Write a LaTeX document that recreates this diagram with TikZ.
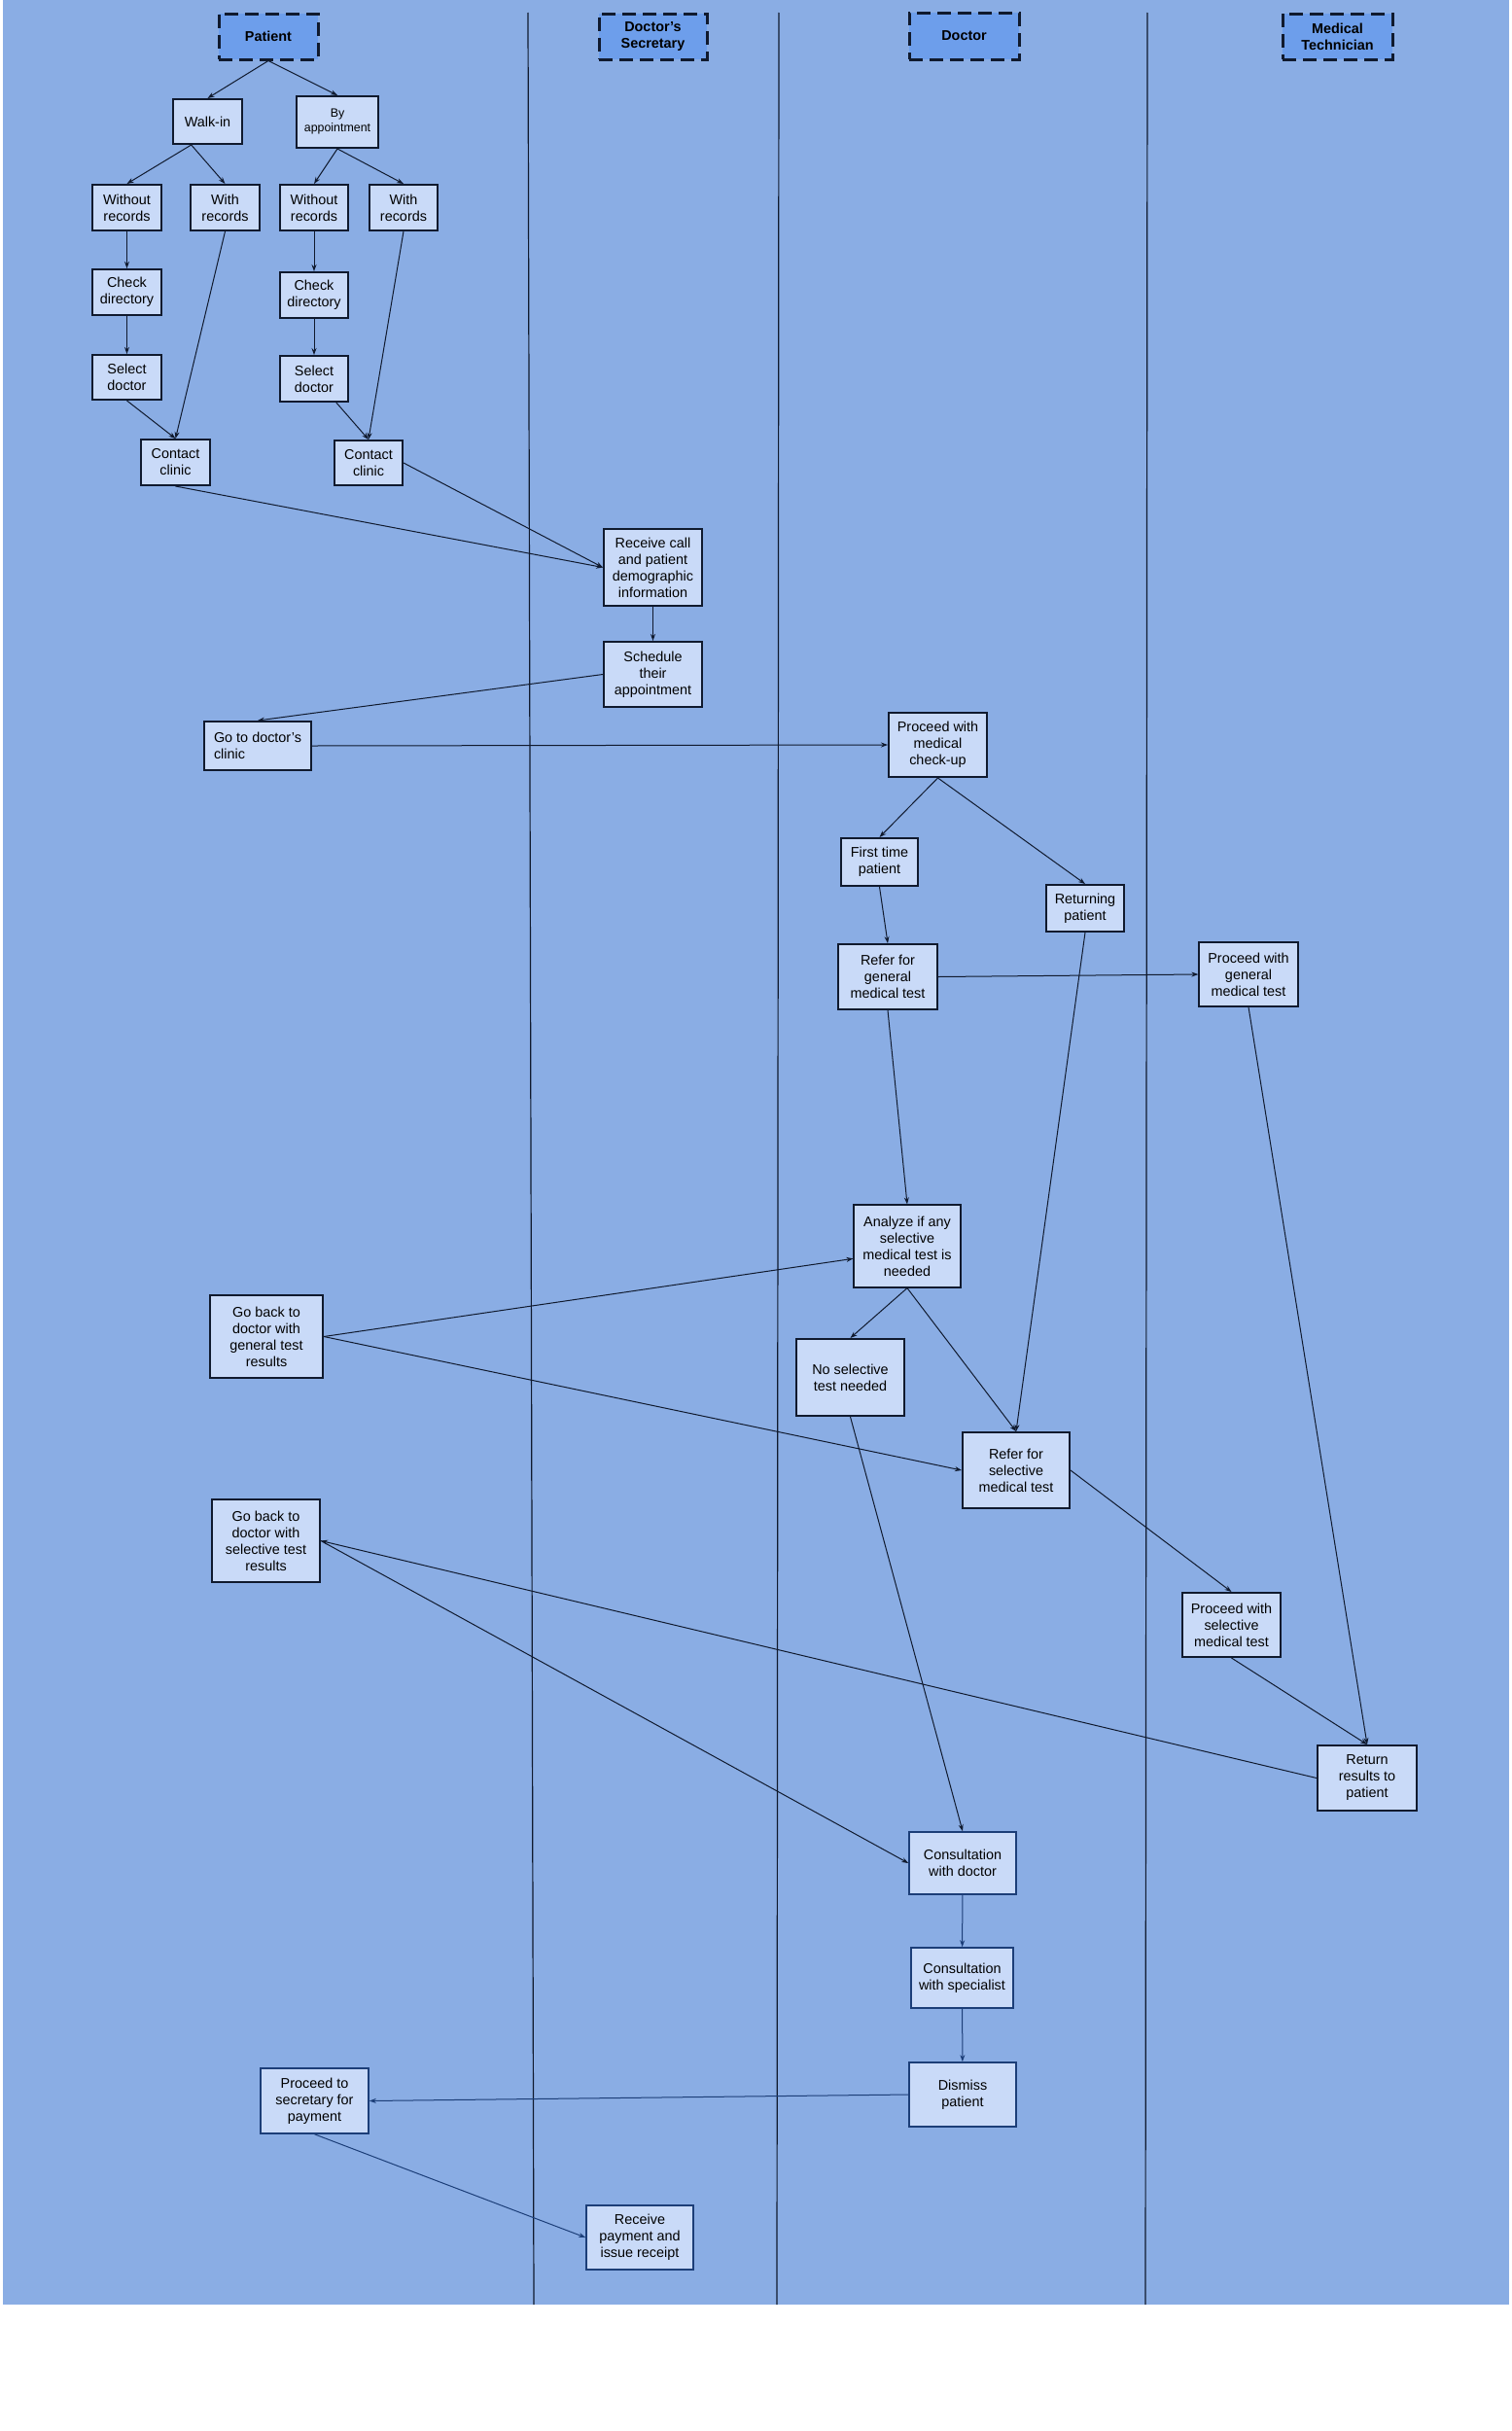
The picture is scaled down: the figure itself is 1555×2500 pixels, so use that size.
\documentclass[tikz,border=0pt]{standalone}
\usepackage{fontspec}
\setmainfont{Liberation Sans}
\usetikzlibrary{arrows.meta}
\definecolor{lanebg}{RGB}{138,173,228}
\definecolor{actorfill}{RGB}{109,158,235}
\definecolor{taskfill}{RGB}{201,218,248}
\definecolor{inkdark}{RGB}{16,26,46}
\definecolor{inkblue}{RGB}{28,62,120}
\tikzset{
  actor/.style={rectangle, draw=inkdark, fill=actorfill, line width=3pt, dash pattern=on 14pt off 7pt, align=center, font=\bfseries\fontsize{14.4}{17}\selectfont, inner sep=2pt},
  task/.style={rectangle, draw=inkdark, fill=taskfill, line width=2pt, align=center, font=\fontsize{14.4}{17}\selectfont, inner sep=2pt},
  taskt/.style={task, line width=1.2pt},
  taskb/.style={task, draw=inkblue, line width=1.6pt},
  sz/.style 2 args={minimum width=#1pt, minimum height=#2pt},
  line/.style={draw=inkdark, line width=1pt, -{Stealth[length=7pt,width=5pt]}},
  lineb/.style={line, draw=inkblue},
  lane/.style={draw=inkdark, line width=1.2pt},
}
\begin{document}
\begin{tikzpicture}[x=1pt,y=-1pt]
  \useasboundingbox (0,0) rectangle (1555,2500);
  \fill[white] (0,0) rectangle (1555,2500);
  \fill[lanebg] (3,0) rectangle (1552,2370);
  \draw[lane] (543,13) -- (549,2370);
  \draw[lane] (801,13) -- (799,2370);
  \draw[lane] (1180,13) -- (1178,2370);

  \node[actor,sz={102}{47}] (pat) at (276,37.5) {Patient};
  \node[actor,sz={111}{47}] (sec) at (671.5,37.5) {Doctor’s\\Secretary};
  \node[actor,sz={113}{48}] (doc) at (991.5,37) {Doctor};
  \node[actor,sz={113}{47}] (tech) at (1375.5,37.5) {Medical\\Technician};

  \node[task,sz={71}{46}] (walkin) at (213.5,125) {Walk-in};
  \node[task,sz={84}{53},font=\fontsize{12.4}{15}\selectfont] (byapp) at (347,125.5) {By\\appointment};
  \node[task,sz={71}{47}] (wo1) at (130.5,213.5) {Without\\records};
  \node[task,sz={71}{47}] (w1) at (231.5,213.5) {With\\records};
  \node[task,sz={70}{47}] (wo2) at (323,213.5) {Without\\records};
  \node[task,sz={70}{47}] (w2) at (415,213.5) {With\\records};
  \node[task,sz={71}{47}] (chk1) at (130.5,300.5) {Check\\directory};
  \node[task,sz={70}{47}] (chk2) at (323,303.5) {Check\\directory};
  \node[task,sz={71}{46}] (sel1) at (130.5,388) {Select\\doctor};
  \node[task,sz={70}{47}] (sel2) at (323,389.5) {Select\\doctor};
  \node[task,sz={71}{47}] (con1) at (180.5,475.5) {Contact\\clinic};
  \node[task,sz={70}{46}] (con2) at (379,476) {Contact\\clinic};

  \node[task,sz={101}{79}] (recv) at (671.5,583.5) {Receive call\\and patient\\demographic\\information};
  \node[task,sz={101}{67}] (sched) at (671.5,693.5) {Schedule\\their\\appointment};
  \node[task,sz={110}{50},align=left] (clinic) at (265,767) {Go to doctor’s\\clinic};

  \node[task,sz={101}{66}] (chkup) at (964.5,766) {Proceed with\\medical\\check-up};
  \node[task,sz={79}{49}] (first) at (904.5,886.5) {First time\\patient};
  \node[task,sz={80}{48}] (ret) at (1116,934) {Returning\\patient};
  \node[task,sz={102}{67}] (refgen) at (913,1004.5) {Refer for\\general\\medical test};
  \node[taskt,sz={102}{66}] (procgen) at (1284,1002) {Proceed with\\general\\medical test};
  \node[taskt,sz={110}{85}] (analyze) at (933,1281.5) {Analyze if any\\selective\\medical test is\\needed};
  \node[task,sz={116}{85}] (gbgen) at (274,1374.5) {Go back to\\doctor with\\general test\\results};
  \node[task,sz={111}{79}] (nosel) at (874.5,1416.5) {No selective\\test needed};
  \node[task,sz={110}{78}] (refsel) at (1045,1512) {Refer for\\selective\\medical test};
  \node[task,sz={111}{85}] (gbsel) at (273.5,1584.5) {Go back to\\doctor with\\selective test\\results};
  \node[task,sz={101}{66}] (procsel) at (1266.5,1671) {Proceed with\\selective\\medical test};
  \node[task,sz={102}{67}] (retres) at (1406,1828.5) {Return\\results to\\patient};

  \node[taskb,sz={110}{64}] (consdoc) at (990,1916) {Consultation\\with doctor};
  \node[taskb,sz={105}{62}] (consspec) at (989.5,2034) {Consultation\\with specialist};
  \node[taskb,sz={110}{66}] (dismiss) at (990,2154) {Dismiss\\patient};
  \node[taskb,sz={111}{67}] (paysec) at (323.5,2160.5) {Proceed to\\secretary for\\payment};
  \node[taskb,sz={110}{66}] (recvpay) at (658,2301) {Receive\\payment and\\issue receipt};

  \begin{scope}[every path/.style=line]
    \path (pat.south) -- (walkin.north);
    \path (pat.south) -- (byapp.north);
    \path (walkin.-125) -- (wo1.north);
    \path (walkin.-125) -- (w1.north);
    \path (byapp.south) -- (wo2.north);
    \path (byapp.south) -- (w2.north);
    \path (wo1) -- (chk1);
    \path (chk1) -- (sel1);
    \path (wo2) -- (chk2);
    \path (chk2) -- (sel2);
    \path (w1.south) -- (con1.north);
    \path (sel1.south) -- (con1.north);
    \path (w2.south) -- (con2.north);
    \path (sel2.-47) -- (con2.north);
    \path (con1.south) -- (recv.west);
    \path (con2.east) -- (recv.west);
    \path (recv) -- (sched);
    \path (sched.west) -- (clinic.north);
    \path (clinic.east) -- (chkup.west);
    \path (chkup.south) -- (first.north);
    \path (chkup.south) -- (ret.north);
    \path (first.south) -- (refgen.north);
    \path (refgen.east) -- (procgen.west);
    \path (refgen.south) -- (analyze.north);
    \path (procgen.south) -- (retres.north);
    \path (gbgen.east) -- (analyze.193);
    \path (gbgen.east) -- (refsel.west);
    \path (analyze.south) -- (nosel.north);
    \path (analyze.south) -- (refsel.north);
    \path (ret.south) -- (refsel.north);
    \path (nosel.south) -- (consdoc.north);
    \path (refsel.east) -- (procsel.north);
    \path (procsel.south) -- (retres.north);
    \path (retres.west) -- (gbsel.east);
    \path (gbsel.east) -- (consdoc.west);
    \path[lineb] (consdoc) -- (consspec);
    \path[lineb] (consspec) -- (dismiss);
    \path[lineb] (dismiss.west) -- (paysec.east);
    \path[lineb] (paysec.south) -- (recvpay.west);
  \end{scope}
\end{tikzpicture}
\end{document}
